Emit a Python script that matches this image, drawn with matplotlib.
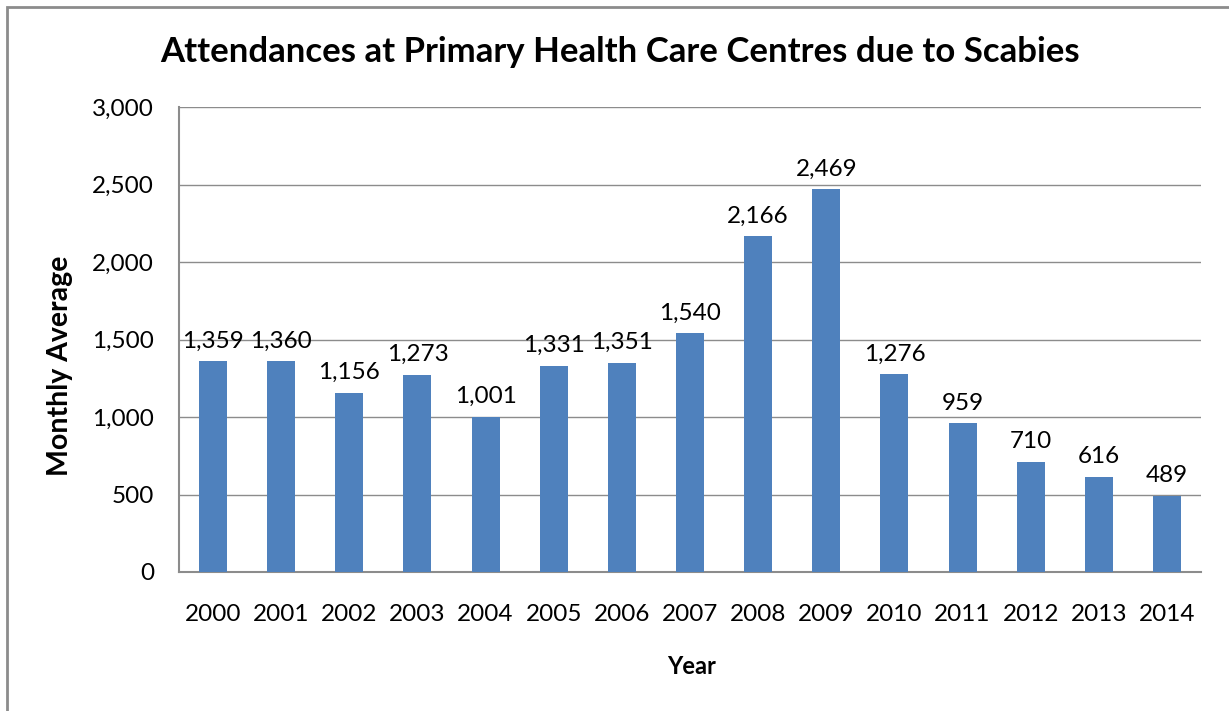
import matplotlib
matplotlib.use("Agg")
import matplotlib.pyplot as plt
from matplotlib.patches import Rectangle
from matplotlib.ticker import FuncFormatter

years = ["2000", "2001", "2002", "2003", "2004", "2005", "2006", "2007",
         "2008", "2009", "2010", "2011", "2012", "2013", "2014"]
values = [1359, 1360, 1156, 1273, 1001, 1331, 1351, 1540,
          2166, 2469, 1276, 959, 710, 616, 489]

plt.rcParams['font.family'] = ['Lato', 'DejaVu Sans']

W, H = 1229, 711
fig = plt.figure(figsize=(W / 100, H / 100), dpi=100)
fig.patch.set_facecolor('white')

# outer chart border (extends past right/bottom edges)
fig.patches.append(Rectangle((7 / W, -0.05), 1.1, 1 - 7 / H + 0.05,
                             transform=fig.transFigure, fill=False,
                             edgecolor='#8c8c8c', linewidth=2))

ax = fig.add_axes([179 / W, 1 - 572 / H, (1201 - 179) / W, (572 - 107) / H])
x = range(len(years))
bars = ax.bar(x, values, width=0.41, color='#4F81BD', zorder=3)

ax.set_xlim(-0.5, len(years) - 0.5)
ax.set_ylim(0, 3000)
ax.set_yticks(range(0, 3001, 500))
ax.yaxis.set_major_formatter(FuncFormatter(lambda v, p: f"{int(v):,}"))
ax.set_xticks(list(x))
ax.set_xticklabels(years)
ax.grid(axis='y', color='#8c8c8c', linewidth=1, zorder=0)
for s in ['top', 'right']:
    ax.spines[s].set_visible(False)
for s in ['left', 'bottom']:
    ax.spines[s].set_color('#8c8c8c')
    ax.spines[s].set_linewidth(1.5)
ax.tick_params(axis='both', length=0, labelsize=17.5, colors='black')
ax.tick_params(axis='x', pad=23)
ax.tick_params(axis='y', pad=18)

for xi, v in zip(x, values):
    ax.annotate(f"{v:,}", (xi, v), xytext=(0, 7), textcoords='offset points',
                ha='center', va='bottom', fontsize=17.5)

fig.text(620 / W, 1 - 52 / H, "Attendances at Primary Health Care Centres due to Scabies",
         ha='center', va='center', fontsize=25, fontweight='bold')
fig.text(60 / W, 1 - 366 / H, "Monthly Average", rotation=90,
         ha='center', va='center', fontsize=20.5, fontweight='bold')
fig.text(692 / W, 1 - 666 / H, "Year", ha='center', va='center',
         fontsize=17, fontweight='bold')

fig.savefig("out.png", dpi=100)
